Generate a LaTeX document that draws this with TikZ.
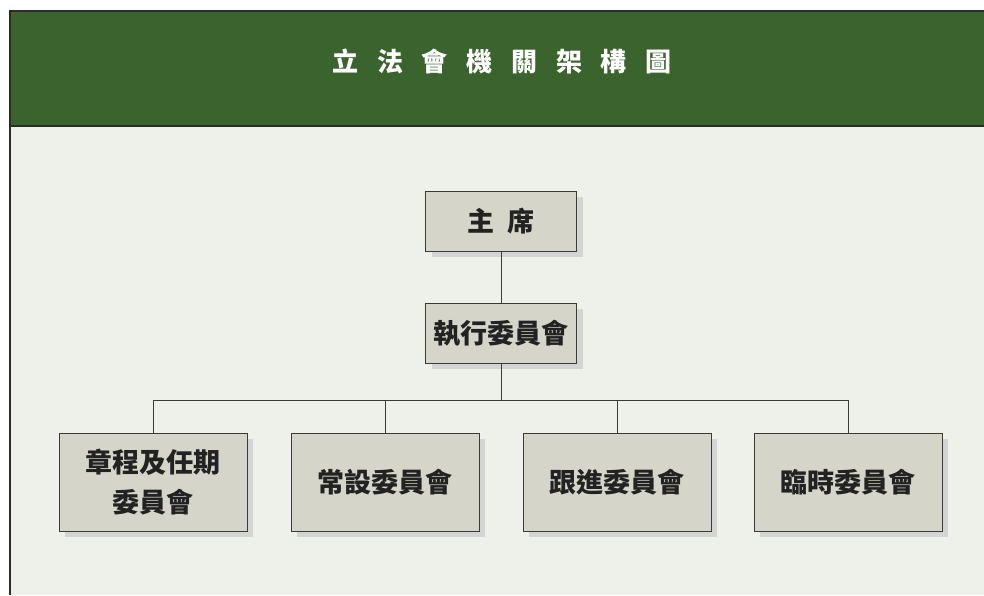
\documentclass[tikz,border=0pt]{standalone}
\usepackage{fontspec}
\setmainfont{Noto Sans CJK TC}
\newfontfamily\titlefont[LetterSpace=72]{Noto Sans CJK TC}
\usetikzlibrary{shadows,positioning}
\definecolor{hdrgreen}{HTML}{3A632D}
\definecolor{pagebg}{HTML}{EEF0EA}
\definecolor{boxfill}{HTML}{D5D6C9}
\definecolor{boxline}{HTML}{3A3A36}
\definecolor{boxtext}{HTML}{222222}
\definecolor{shadowgray}{HTML}{D4D4D4}
\definecolor{framecol}{HTML}{2E2A26}

\begin{document}
\begin{tikzpicture}[x=1pt,y=-1pt,
  unit/.style={draw=boxline, line width=0.8pt, fill=boxfill, text=boxtext,
    font=\bfseries\fontsize{27}{40}\selectfont, align=center, inner sep=0pt,
    drop shadow={shadow xshift=6pt, shadow yshift=-6pt, fill=shadowgray, opacity=1}},
  small/.style={minimum width=151pt, minimum height=60pt},
  wide/.style={minimum width=188pt, minimum height=98pt},
  link/.style={draw=boxline, line width=0.8pt}]
  \useasboundingbox (0,0) rectangle (984,595);
  % page and header
  \fill[pagebg] (10,11) rectangle (984,595);
  \fill[hdrgreen] (10,11) rectangle (984,126);
  \draw[line width=1.5pt, framecol] (984,11) -- (10,11) -- (10,595);
  \draw[line width=1.5pt, framecol] (10,126) -- (984,126);
  \node[text=white, font=\titlefont\bfseries\fontsize{26}{26}\selectfont] (title) at (502,61) {立法會機關架構圖};

  % boxes
  \node[unit, small] (chair) at (501,221) {主\hspace{0.5em}席};
  \node[unit, small] (exec) at (501,333) {執行委員會};
  \node[unit, wide] (rules) at (153,482) {章程及任期\\委員會};
  \node[unit, wide] (standing) at (385,482) {常設委員會};
  \node[unit, wide] (follow) at (617,482) {跟進委員會};
  \node[unit, wide] (adhoc) at (848,482) {臨時委員會};

  % links
  \draw[link] (chair) -- (exec);
  \foreach \c in {rules,standing,follow,adhoc}
    \draw[link] (exec.south) -- ++(0,37) -| (\c.north);
\end{tikzpicture}
\end{document}
